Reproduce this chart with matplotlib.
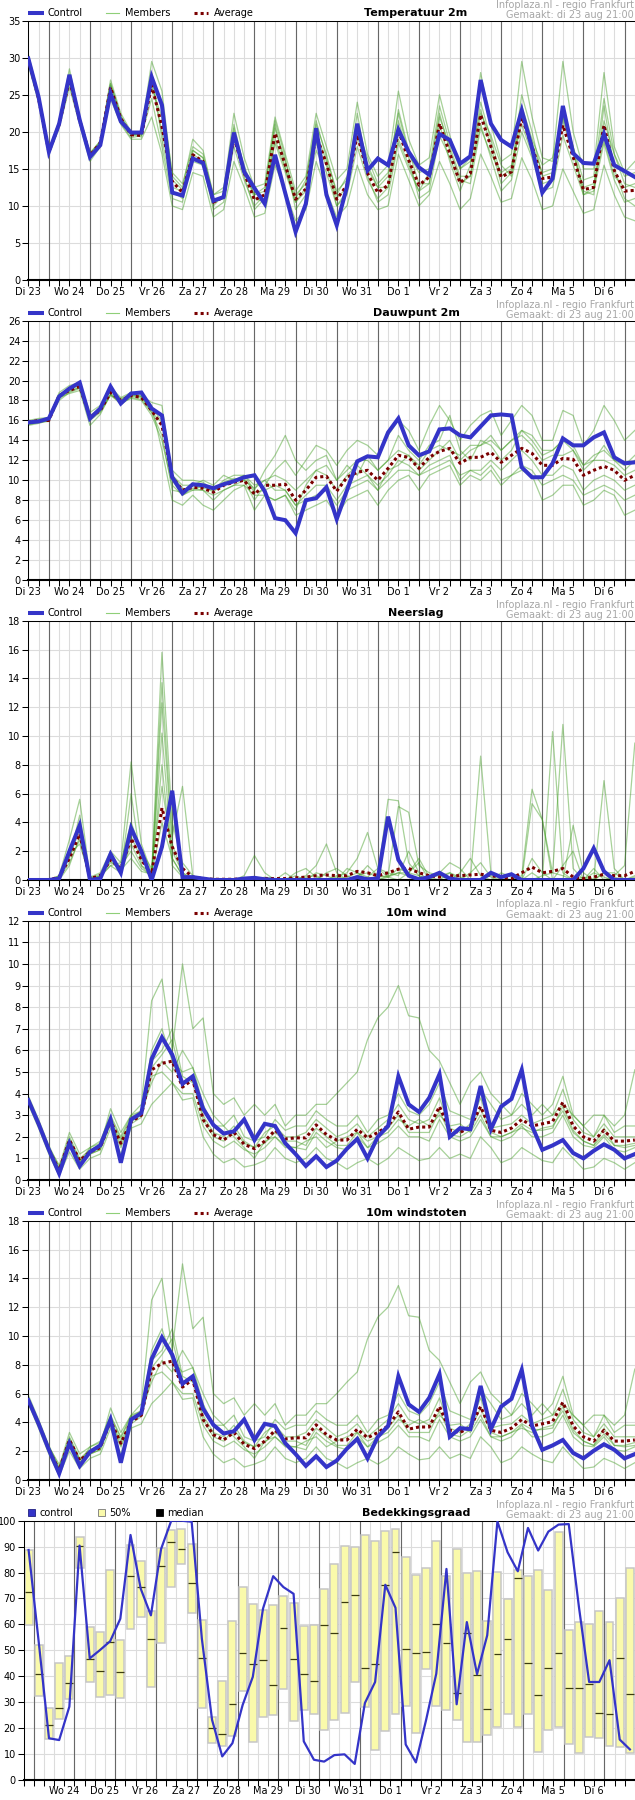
import numpy as np
import matplotlib
matplotlib.use('Agg')
import matplotlib.pyplot as plt
from matplotlib.lines import Line2D
from matplotlib.patches import Rectangle

plt.rcParams['font.family'] = ['DejaVu Sans']

# ---------------- data ----------------
day_labels = ["Di 23", "Wo 24", "Do 25", "Vr 26", "Za 27", "Zo 28", "Ma 29", "Di 30",
              "Wo 31", "Do 1", "Vr 2", "Za 3", "Zo 4", "Ma 5", "Di 6"]
cloud_labels = ["Wo 24", "Do 25", "Vr 26", "Za 27", "Zo 28", "Ma 29", "Di 30",
                "Wo 31", "Do 1", "Vr 2", "Za 3", "Zo 4", "Ma 5", "Di 6"]

temp_control = [29.9,24.7,17.3,21.1,27.7,21.6,16.6,18.2,25.2,21.4, 19.9,19.9,27.4,23.6,11.8,11.4,16.4,15.8,10.7,11.2,
                19.9,14.6,12.4,10.3,16.9,11.7,6.5,10.3,20.5,11.5, 7.4,12.6,21.1,14.8,16.4,15.5,20.3,17.3,15.2,14.2,
                19.7,18.9,15.7,16.7,27.0,21.1,18.9,18.0,22.9,17.8, 11.8,13.7,23.5,17.1,15.8,15.7,19.7,15.5,14.7,13.9]
temp_average = [29.8,24.5,17.3,21.0,27.0,21.5,16.8,18.5,26.0,21.8, 19.6,19.5,26.3,20.7,13.3,11.8,16.9,16.0,10.5,11.2,
                19.3,14.5,10.8,11.5,19.8,15.5,10.9,12.3,19.5,15.7, 10.9,12.8,19.6,14.4,11.8,12.8,20.2,16.2,12.8,13.9,
                21.1,17.1,13.1,14.4,22.3,18.0,13.9,14.6,22.0,18.0, 13.7,13.9,20.9,16.6,12.2,12.5,20.9,14.8,12.0,12.1]
temp_members = [
    [30.5,25.0,17.5,21.5,28.5,22.0,17.0,18.8,27.0,22.5, 20.0,20.0,29.5,25.5,14.0,12.5,19.0,17.5,11.5,12.0,
     22.5,16.5,12.5,13.0,22.0,17.0,12.0,14.0,22.5,18.0, 13.5,15.0,24.0,17.0,14.0,15.5,25.5,19.0,15.5,16.5,
     25.0,19.5,15.0,16.5,28.0,21.0,16.0,17.0,29.5,22.0, 16.5,16.0,29.5,20.0,15.0,15.0,28.0,18.0,14.5,16.0],
    [29.0,24.0,17.0,20.5,26.0,21.0,16.0,18.0,24.5,21.0, 19.0,19.0,22.0,17.0,10.0,9.5,14.5,14.0,8.5,9.5,
     16.0,12.5,8.5,9.0,15.5,12.0,8.0,9.5,16.0,12.0, 8.5,10.0,15.5,11.5,9.5,10.0,17.0,13.5,10.0,11.5,
     16.0,13.0,9.5,11.0,17.0,14.0,10.5,11.0,16.5,13.5, 9.5,10.0,15.0,12.0,9.0,9.5,15.5,11.5,8.5,8.0],
    [30.0,24.8,17.5,21.2,27.5,22.0,17.2,18.7,26.5,22.0, 19.5,19.8,28.0,19.0,12.0,11.0,17.5,16.5,10.0,11.5,
     21.0,15.0,11.0,10.5,20.5,16.0,11.5,13.0,21.5,16.5, 12.0,13.5,22.5,15.0,12.5,14.0,23.0,17.5,13.0,13.0,
     21.0,16.0,12.0,15.5,24.0,19.0,14.0,15.0,25.0,20.0, 14.0,14.5,23.0,18.0,12.0,11.5,23.5,15.0,11.0,10.0],
    [29.5,24.2,17.2,20.8,27.0,21.2,16.5,18.3,25.5,21.5, 19.7,19.3,26.0,22.0,12.5,12.0,16.0,15.5,9.5,10.5,
     18.0,13.5,10.0,11.5,18.5,14.5,10.5,12.0,18.5,15.5, 11.0,12.5,19.5,14.0,10.5,11.5,18.5,15.0,12.0,14.5,
     22.5,17.5,13.5,13.0,20.5,17.0,14.5,15.5,21.0,17.0, 13.0,13.5,21.5,17.0,12.5,13.0,19.0,14.0,12.5,13.0],
    [30.2,24.6,17.3,21.3,27.8,21.8,16.8,18.6,26.2,22.0, 19.8,19.6,27.0,24.0,14.5,13.0,18.0,17.0,11.5,12.5,
     20.0,15.5,11.5,12.0,21.5,16.5,9.5,11.5,17.5,14.5, 10.0,12.0,20.5,15.5,12.5,12.5,21.5,16.5,11.0,12.0,
     19.5,16.5,13.0,14.0,22.5,19.5,15.5,14.0,23.0,18.5, 14.5,15.0,22.0,18.0,13.5,14.0,24.5,17.0,13.0,12.5],
    [29.3,24.4,17.4,20.9,26.5,21.4,16.6,18.2,25.0,21.2, 19.2,19.5,24.5,18.0,11.0,10.5,17.0,16.0,10.5,11.0,
     20.5,14.0,9.5,11.0,19.0,15.0,10.5,12.5,20.0,16.0, 10.0,11.5,18.0,13.5,11.0,12.5,19.0,15.5,12.0,13.0,
     22.0,18.0,14.0,14.0,21.0,16.5,12.0,13.5,20.0,16.5, 12.0,12.5,19.5,15.5,11.5,12.0,18.5,13.5,10.5,11.0],
    [30.0,24.5,17.0,21.0,27.2,21.6,17.0,18.5,26.5,22.2, 19.6,19.7,26.8,20.0,13.5,12.2,17.5,16.5,11.0,11.0,
     19.0,14.5,11.5,12.5,21.0,15.0,11.0,13.5,21.0,17.0, 11.5,14.0,20.5,16.5,13.0,14.5,22.5,17.0,14.5,15.0,
     23.5,18.5,15.0,16.0,23.0,18.0,13.0,14.5,23.5,19.0, 15.5,16.5,22.0,17.5,11.5,12.5,21.5,17.0,14.0,14.5],
]

dew_control = [15.8,15.9,16.2,18.4,19.2,19.8,16.2,17.2,19.4,17.7, 18.7,18.8,17.2,16.5,10.3,8.7,9.6,9.5,9.2,9.6,
               9.9,10.3,10.5,8.9,6.2,6.0,4.7,8.0,8.2,9.3, 6.1,9.0,11.9,12.4,12.3,14.8,16.2,13.5,12.5,12.9,
               15.1,15.2,14.5,14.3,15.4,16.5,16.6,16.5,11.3,10.3, 10.3,11.7,14.2,13.5,13.5,14.3,14.8,12.3,11.7,11.8]
dew_average = [15.8,16.0,16.0,18.5,19.0,19.4,16.3,17.0,18.8,18.0, 18.5,18.3,17.0,15.5,10.3,9.0,9.3,9.2,8.8,9.5,
               9.8,10.0,8.6,9.5,9.5,9.6,8.0,9.0,10.3,10.4, 8.9,10.3,10.8,11.0,10.0,11.2,12.5,12.3,11.2,12.3,
               12.9,13.2,11.7,12.3,12.3,12.8,11.8,12.5,13.2,12.7, 11.5,11.5,12.2,12.1,10.5,11.0,11.4,11.0,10.0,10.5]
dew_members = [
    [15.5,15.7,16.0,18.0,18.8,19.2,16.0,16.8,18.5,17.8, 18.2,18.0,16.5,14.0,9.5,8.5,9.0,9.0,8.5,9.0,
     9.5,10.0,8.0,9.5,11.0,12.0,10.5,12.0,13.5,13.0, 11.5,13.0,14.0,13.5,12.5,14.5,16.0,15.0,13.0,15.5,
     17.5,16.0,14.0,15.5,16.5,17.0,14.5,16.0,17.5,16.5, 14.0,14.0,17.0,16.5,13.5,15.0,17.5,16.0,14.0,15.0],
    [16.0,16.2,16.3,18.8,19.5,19.8,16.8,17.5,19.3,18.3, 18.8,18.7,17.5,13.0,8.0,7.5,8.5,7.5,7.0,8.0,
     9.0,9.5,7.0,8.5,8.0,8.5,6.5,7.0,7.5,8.0, 6.5,8.0,8.5,9.0,7.5,9.0,10.0,10.5,9.0,10.5,
     11.0,11.5,9.5,10.5,10.0,11.0,9.5,10.5,11.0,10.5, 8.0,8.5,9.5,9.5,7.5,8.0,9.0,8.5,6.5,7.0],
    [15.6,15.8,15.9,18.3,18.7,19.0,15.5,16.6,18.6,17.6, 18.3,18.1,16.8,15.8,11.0,10.0,10.0,9.8,9.0,10.0,
     10.5,10.5,9.0,11.0,12.5,14.5,12.0,11.0,12.0,12.5, 10.0,11.5,10.5,12.5,11.0,12.0,14.5,13.0,12.0,13.5,
     14.0,16.5,13.0,12.0,14.0,13.5,12.0,13.0,15.0,14.0, 12.5,13.0,14.0,13.0,11.0,12.0,13.5,12.0,11.5,12.5],
    [15.9,16.1,16.1,18.6,19.1,19.5,16.5,17.2,19.0,18.2, 18.6,18.5,17.8,17.5,10.5,9.5,9.5,10.0,9.5,10.5,
     10.0,10.5,9.5,10.0,9.0,9.0,7.5,8.5,9.5,9.5, 8.0,9.5,10.0,10.5,9.5,10.5,12.0,11.5,10.5,11.5,
     12.0,12.5,10.0,11.0,11.0,12.0,11.0,12.0,13.0,12.0, 10.5,10.5,11.5,11.0,9.0,10.0,10.5,10.0,9.0,9.5],
    [15.7,15.9,16.0,18.4,19.0,19.3,16.2,16.9,18.7,18.0, 18.5,18.4,17.2,16.0,10.0,8.5,9.2,9.0,8.0,9.0,
     9.5,9.5,8.5,8.5,8.0,8.5,7.0,9.5,11.0,10.5, 9.0,10.5,11.5,10.5,9.0,11.0,11.5,12.5,11.5,13.0,
     13.5,13.0,12.5,13.5,13.5,14.0,13.0,14.0,14.5,13.5, 12.0,12.5,12.5,13.0,11.5,12.0,12.0,11.5,10.5,11.0],
    [15.8,16.0,16.1,18.5,19.2,19.6,16.4,17.1,19.1,18.1, 18.6,18.4,16.8,14.5,9.0,8.8,9.5,9.2,9.0,9.5,
     10.0,10.2,8.8,9.0,9.5,9.0,7.5,8.0,8.5,9.0, 7.5,9.0,9.5,10.0,9.0,10.0,11.0,11.0,10.5,11.0,
     11.5,12.0,10.5,11.0,10.5,11.5,10.0,10.5,11.5,11.0, 9.5,10.0,10.5,10.0,8.5,9.0,9.5,9.0,8.0,8.5],
    [15.6,15.8,16.0,18.2,18.9,19.3,16.1,17.0,18.6,17.9, 18.4,18.3,17.0,16.5,10.5,9.2,9.0,9.5,8.8,9.8,
     10.2,10.0,9.2,10.0,10.5,10.0,9.0,10.0,11.0,11.5, 10.0,11.0,12.0,12.0,11.0,12.0,13.0,12.5,11.0,12.0,
     13.0,14.0,12.0,13.0,13.5,14.5,13.0,14.0,15.0,14.5, 13.0,13.0,14.0,13.5,11.5,12.5,13.0,12.0,11.0,12.0],
]

rain_control = [0,0,0,0.1,2.0,3.8,0,0.1,1.8,0.5, 3.6,2.0,0,2.3,6.2,0.2,0.2,0.1,0,0,
                0,0.1,0.15,0.05,0,0,0,0,0,0, 0,0,0.2,0.05,0.1,4.4,1.4,0.3,0.05,0.2,
                0.5,0.1,0,0,0,0.5,0.2,0.4,0,0, 0,0,0,0,0.8,2.2,0.6,0,0,0]
rain_average = [0,0,0,0.2,1.5,3.2,0.1,0.3,1.4,0.8, 2.9,1.4,0.4,5.0,2.3,0.8,0.2,0.1,0.05,0.05,
                0.05,0.1,0.1,0.1,0.1,0.1,0.15,0.2,0.3,0.35, 0.3,0.3,0.6,0.5,0.3,0.5,0.75,0.8,0.5,0.3,
                0.2,0.3,0.3,0.35,0.4,0.3,0.2,0.1,0.5,0.9, 0.5,0.6,0.8,0.2,0.1,0.2,0.4,0.3,0.3,0.6]
rain_members = [
    [0,0,0,0.3,2.8,5.6,0.2,0.5,2.0,1.2, 8.2,2.5,0.5,15.8,4.0,1.2,0.3,0,0,0,
     0,0,0,0,0,0,0,0.3,1.0,2.5, 0.5,0,0.3,0.5,0.2,0.3,5.1,4.7,1.0,0.5,
     0.3,0,0,0.5,1.2,0.2,0,0,0.3,6.3, 4.2,0.5,10.8,0.8,0,0,0.5,0.5,0,0.2],
    [0,0,0,0.2,1.5,4.5,0.1,0.2,1.5,0.8, 3.0,1.5,0.3,13.7,3.0,6.5,0.3,0,0,0.1,
     0,0,0,0.2,0.1,0,0,0,0,0, 0.2,0.5,1.5,3.3,0.8,0.2,0,0.5,1.2,0,
     0,0.5,0,0,8.6,0.5,0,0,0,0, 0,10.3,0.5,0,0.2,0,0,0,0,0],
    [0,0,0,0,1.0,3.0,0,0.3,1.0,0.5, 6.0,1.0,0.2,12.3,2.5,0.5,0,0,0,0,
     0,0.3,1.7,0.5,0,0,0.5,0.8,0.2,0, 0,0.8,0.5,0,0.3,5.6,5.5,1.2,0.3,0,
     0.5,1.2,0.8,0,0,0.3,0.2,0,0,5.3, 4.2,0,0,3.8,0.5,0,6.9,0.8,0,0],
    [0,0,0,0.2,2.0,4.0,0,0.2,1.8,0.5, 2.5,1.0,0.5,10.2,1.5,0.3,0,0,0,0,
     0.1,0,0,0,0,0.5,0,0,0,0.5, 0.8,0.3,0,0.2,0.8,0.5,0.3,2.0,0.5,0,
     0,0,0.5,1.5,0.3,0,0,0,0,1.5, 0.5,0,1.0,2.0,0,0,0,0.3,1.0,9.5],
    [0,0,0,0.1,1.2,2.8,0,0.3,1.2,1.0, 2.0,0.8,0.3,8.0,1.0,0.2,0.2,0,0,0,
     0,0,0,0,0,0,0.3,0,0.5,0.3, 0,0,0.2,1.0,0.3,0.2,0.5,0.3,0,0.2,
     0.3,0.5,0.2,0,0,0,0.5,0.2,0,0, 0.3,0.5,0.3,0,0,0.5,0.2,0,0,0.3],
    [0,0,0,0.2,1.6,3.5,0.1,0.4,1.3,0.7, 1.5,0.6,0.4,4.0,1.5,0.3,0,0,0,0,
     0,0,0,0,0,0,0,0.2,0.3,0, 0,0.2,0.5,0.2,0,0.3,0.5,0.5,1.5,0.2,
     0,0,0,0,0,0,0,0,0,0.5, 0,0,0,0,0,0,0.5,0.2,0,0],
    [0,0,0,0.3,1.8,2.5,0.2,0.2,1.0,1.2, 4.0,2.0,0.8,6.5,2.0,0.5,0.1,0,0,0,
     0,0,0,0,0,0,0,0,0,0, 0.3,0,0,0,0,0.2,0.8,0.5,0.3,0,
     0,0,0,0,0,0,0,0,0,0, 0,0,0,0,0,0.8,0,0,0,0],
]

wind_control = [3.7,2.6,1.4,0.3,1.7,0.65,1.3,1.6,2.8,0.8, 2.8,3.1,5.6,6.6,5.8,4.45,4.8,3.3,2.55,2.15,
                2.25,2.8,1.85,2.6,2.5,1.7,1.2,0.65,1.1,0.6, 0.9,1.45,1.9,1.0,2.0,2.5,4.8,3.5,3.15,3.8,
                4.9,2.0,2.4,2.35,4.35,2.35,3.4,3.75,5.1,2.5, 1.4,1.6,1.85,1.25,1.0,1.35,1.65,1.4,1.0,1.2]
wind_average = [3.7,2.6,1.4,0.45,1.85,0.9,1.3,1.5,2.75,1.7, 2.7,3.0,5.1,5.4,5.5,4.3,4.65,2.8,2.1,1.85,
                2.2,1.65,1.45,1.8,2.3,1.9,1.95,1.95,2.55,2.1, 1.85,1.85,2.35,1.95,2.2,2.5,3.15,2.35,2.45,2.45,
                3.4,2.3,2.2,2.45,3.4,2.3,2.2,2.4,2.8,2.5, 2.6,2.7,3.6,2.5,2.0,1.8,2.3,1.8,1.8,1.85]
wind_members = [
    [3.9,2.8,1.6,0.6,2.2,1.2,1.5,1.8,3.0,2.0, 3.0,3.5,8.3,9.3,6.0,10.0,7.0,7.5,4.0,3.5,
     3.8,3.0,3.5,3.0,3.5,2.5,3.0,3.0,3.5,3.5, 4.0,4.5,5.0,6.5,7.5,8.0,9.0,7.6,7.5,6.0,
     5.5,4.5,3.5,4.5,5.0,4.0,3.5,3.0,3.5,3.0, 3.5,3.0,3.5,3.0,2.5,3.0,3.0,2.5,3.0,5.1],
    [3.5,2.4,1.2,0.2,1.3,0.5,1.0,1.2,2.4,1.2, 2.4,2.6,3.5,4.0,4.5,3.7,3.8,2.0,1.2,0.8,
     1.0,0.6,0.7,0.9,1.5,1.0,0.8,1.0,1.5,1.0, 0.8,0.5,0.8,1.0,0.7,1.0,1.5,1.2,0.9,1.0,
     1.5,1.0,1.2,1.0,2.0,1.5,0.8,1.0,1.5,1.2, 0.9,0.8,1.5,1.0,0.5,0.6,1.0,0.8,0.5,0.8],
    [3.8,2.7,1.5,0.5,2.0,1.0,1.4,1.6,3.3,2.2, 3.0,3.2,6.0,7.0,5.5,5.0,5.2,3.5,2.5,2.5,
     3.0,2.0,1.8,2.0,2.8,2.3,2.5,2.5,3.2,2.8, 2.5,2.5,3.0,2.2,2.8,3.0,4.0,3.2,3.0,3.5,
     4.5,3.2,3.0,2.8,4.2,3.5,2.8,3.0,4.0,3.5, 3.0,3.5,4.8,3.0,2.5,2.0,3.0,2.2,2.5,2.5],
    [3.6,2.5,1.3,0.4,1.7,0.8,1.2,1.4,2.6,1.5, 2.6,2.9,4.8,5.0,4.5,4.0,4.0,2.5,1.8,1.5,
     1.8,1.4,1.2,1.5,2.0,1.6,1.5,1.4,2.2,1.8, 1.5,1.4,2.0,1.5,1.7,2.0,2.5,2.0,2.0,1.8,
     2.8,2.0,1.8,2.0,2.8,2.0,1.8,2.0,2.5,2.0, 2.0,2.2,3.0,2.0,1.6,1.5,2.0,1.4,1.3,1.5],
    [3.7,2.6,1.4,0.5,1.9,0.9,1.3,1.5,2.7,1.8, 2.7,3.0,5.5,6.0,7.0,4.8,4.5,3.0,2.2,2.0,
     2.5,1.8,1.5,2.2,2.5,2.0,2.0,2.2,2.8,2.4, 2.0,2.2,2.6,2.0,2.4,2.8,3.5,2.8,2.6,2.8,
     3.8,2.4,2.2,2.6,3.8,2.4,2.5,2.6,3.0,2.6, 2.8,3.0,4.2,2.8,2.2,2.0,2.6,2.0,2.0,2.0],
    [3.8,2.6,1.5,0.7,1.6,0.8,1.5,1.7,2.9,1.9, 2.9,3.2,4.5,5.5,5.0,6.0,5.2,4.0,3.0,2.5,
     2.0,1.5,1.0,1.8,2.0,1.5,1.5,1.8,2.0,1.5, 1.8,2.0,2.2,1.5,2.0,2.2,2.8,2.5,2.8,2.5,
     3.0,2.5,2.6,2.2,3.0,2.0,2.0,2.2,2.4,2.2, 2.4,2.5,3.2,2.2,1.8,1.6,2.4,1.6,1.5,1.6],
    [3.6,2.5,1.4,0.4,1.8,0.9,1.2,1.4,2.8,1.6, 2.8,3.0,5.2,5.8,6.5,4.5,4.8,2.8,2.0,1.8,
     2.3,1.7,1.5,1.7,2.2,1.8,1.8,1.6,2.4,2.0, 1.6,1.6,2.2,1.8,2.0,2.4,3.0,2.2,2.2,2.2,
     3.2,2.1,2.0,2.3,3.3,2.2,2.0,2.2,2.6,2.3, 2.3,2.4,3.4,2.3,1.8,1.6,2.1,1.6,1.6,1.7],
]

gust_control = [5.55,3.9,2.1,0.45,2.55,0.98,1.95,2.4,4.2,1.2, 4.2,4.65,8.4,9.9,8.7,6.68,7.2,4.95,3.83,3.23,
                3.38,4.2,2.78,3.9,3.75,2.55,1.8,0.98,1.65,0.9, 1.35,2.18,2.85,1.5,3.0,3.75,7.2,5.25,4.73,5.7,
                7.35,3.0,3.6,3.53,6.53,3.53,5.1,5.63,7.65,3.75, 2.1,2.4,2.78,1.88,1.5,2.03,2.48,2.1,1.5,1.8]
gust_average = [5.55,3.9,2.1,0.68,2.78,1.35,1.95,2.25,4.13,2.55, 4.05,4.5,7.65,8.1,8.25,6.45,6.98,4.2,3.15,2.78,
                3.3,2.48,2.18,2.7,3.45,2.85,2.93,2.93,3.83,3.15, 2.78,2.78,3.53,2.93,3.3,3.75,4.73,3.53,3.68,3.68,
                5.1,3.45,3.3,3.68,5.1,3.45,3.3,3.6,4.2,3.75, 3.9,4.05,5.4,3.75,3.0,2.7,3.45,2.7,2.7,2.78]
gust_members = [
    [5.9,4.2,2.4,0.9,3.3,1.8,2.3,2.7,4.5,3.0, 4.5,5.3,12.5,14.0,9.0,15.0,10.5,11.3,6.0,5.3,
     5.7,4.5,5.3,4.5,5.3,3.8,4.5,4.5,5.3,5.3, 6.0,6.8,7.5,9.8,11.3,12.0,13.5,11.4,11.3,9.0,
     8.3,6.8,5.3,6.8,7.5,6.0,5.3,4.5,5.3,4.5, 5.3,4.5,5.3,4.5,3.8,4.5,4.5,3.8,4.5,7.7],
    [5.3,3.6,1.8,0.3,2.0,0.8,1.5,1.8,3.6,1.8, 3.6,3.9,5.3,6.0,6.8,5.6,5.7,3.0,1.8,1.2,
     1.5,0.9,1.1,1.4,2.3,1.5,1.2,1.5,2.3,1.5, 1.2,0.8,1.2,1.5,1.1,1.5,2.3,1.8,1.4,1.5,
     2.3,1.5,1.8,1.5,3.0,2.3,1.2,1.5,2.3,1.8, 1.4,1.2,2.3,1.5,0.8,0.9,1.5,1.2,0.8,1.2],
    [5.7,4.1,2.3,0.8,3.0,1.5,2.1,2.4,5.0,3.3, 4.5,4.8,9.0,10.5,8.3,7.5,7.8,5.3,3.8,3.8,
     4.5,3.0,2.7,3.0,4.2,3.5,3.8,3.8,4.8,4.2, 3.8,3.8,4.5,3.3,4.2,4.5,6.0,4.8,4.5,5.3,
     6.8,4.8,4.5,4.2,6.3,5.3,4.2,4.5,6.0,5.3, 4.5,5.3,7.2,4.5,3.8,3.0,4.5,3.3,3.8,3.8],
    [5.4,3.8,2.0,0.6,2.6,1.2,1.8,2.1,3.9,2.3, 3.9,4.4,7.2,7.5,6.8,6.0,6.0,3.8,2.7,2.3,
     2.7,2.1,1.8,2.3,3.0,2.4,2.3,2.1,3.3,2.7, 2.3,2.1,3.0,2.3,2.6,3.0,3.8,3.0,3.0,2.7,
     4.2,3.0,2.7,3.0,4.2,3.0,2.7,3.0,3.8,3.0, 3.0,3.3,4.5,3.0,2.4,2.3,3.0,2.1,2.0,2.3],
    [5.6,3.9,2.1,0.8,2.9,1.4,2.0,2.3,4.1,2.7, 4.1,4.5,8.3,9.0,10.5,7.2,6.8,4.5,3.3,3.0,
     3.8,2.7,2.3,3.3,3.8,3.0,3.0,3.3,4.2,3.6, 3.0,3.3,3.9,3.0,3.6,4.2,5.3,4.2,3.9,4.2,
     5.7,3.6,3.3,3.9,5.7,3.6,3.8,3.9,4.5,3.9, 4.2,4.5,6.3,4.2,3.3,3.0,3.9,3.0,3.0,3.0],
    [5.7,3.9,2.3,1.1,2.4,1.2,2.3,2.6,4.4,2.9, 4.4,4.8,6.8,8.3,7.5,9.0,7.8,6.0,4.5,3.8,
     3.0,2.3,1.5,2.7,3.0,2.3,2.3,2.7,3.0,2.3, 2.7,3.0,3.3,2.3,3.0,3.3,4.2,3.8,4.2,3.8,
     4.5,3.8,3.9,3.3,4.5,3.0,3.0,3.3,3.6,3.3, 3.6,3.8,4.8,3.3,2.7,2.4,3.6,2.4,2.3,2.4],
    [5.4,3.8,2.1,0.6,2.7,1.4,1.8,2.1,4.2,2.4, 4.2,4.5,7.8,8.7,9.8,6.8,7.2,4.2,3.0,2.7,
     3.5,2.6,2.3,2.6,3.3,2.7,2.7,2.4,3.6,3.0, 2.4,2.4,3.3,2.7,3.0,3.6,4.5,3.3,3.3,3.3,
     4.8,3.2,3.0,3.5,5.0,3.3,3.0,3.3,3.9,3.5, 3.5,3.6,5.1,3.5,2.7,2.4,3.2,2.4,2.4,2.6],
]

cloud_p75 = [88.7,52.2,27.8,45.3,47.9,93.6,59.0,57.1,81.0,54.0, 90.7,84.5,65.0,89.5,96.4,96.8,91.0,61.8,24.2,38.0,
             61.3,74.5,68.0,65.7,67.6,70.9,68.4,59.2,59.7,73.7, 83.3,90.1,89.7,94.5,92.1,96.0,96.7,85.9,79.0,81.7,
             92.2,78.8,89.0,79.9,80.6,61.3,80.3,69.9,80.8,78.7, 81.0,73.3,95.5,57.9,60.9,60.0,65.3,61.0,70.3,81.8]
cloud_p25 = [59.7,32.3,16.0,23.6,31.2,81.8,37.8,32.0,32.6,31.6, 58.4,63.0,35.7,52.8,74.6,83.4,64.5,27.7,14.2,13.1,
             16.9,34.2,14.5,24.2,25.0,35.0,22.7,26.9,25.4,19.2, 23.1,26.0,37.9,28.2,11.5,18.8,25.6,28.7,18.3,42.9,
             28.7,26.9,23.3,14.7,14.5,17.2,20.5,25.6,20.3,25.3, 10.9,19.2,20.5,13.8,10.3,16.5,16.2,13.2,12.7,10.3]
cloud_median = [72.6,40.7,21.1,27.8,37.3,90.4,46.5,42.0,53.4,41.5, 78.7,74.6,54.5,82.6,91.8,89.1,76.1,46.9,20.0,17.9,
                29.2,48.8,44.9,46.1,36.5,58.8,46.5,40.7,38.0,59.9, 56.8,68.7,71.4,43.3,44.9,75.1,88.1,50.5,49.1,49.5,
                60.3,52.9,33.7,56.8,40.6,27.2,48.5,54.5,77.9,45.3, 32.9,43.3,49.1,35.3,35.3,37.2,26.0,25.6,47.2,33.3]
cloud_control = [88.7,53.0,16.1,15.4,28.3,90.4,46.9,50.1,53.5,62.2, 94.5,73.8,63.5,89.1,100,100,99.6,54.5,23.2,9.1,
                 14.2,28.9,39.8,66.1,78.6,74.4,71.8,14.9,7.8,7.1, 9.6,9.9,6.2,29.7,37.8,75.3,66.4,13.7,6.8,23.1,
                 41.0,81.4,29.2,60.9,40.8,55.8,99.7,87.8,80.5,97.2, 88.5,95.8,98.5,98.7,66.7,37.8,37.8,46.2,15.6,11.8]

# ---------------- style ----------------
W, H = 635, 1800
BLUE = '#3434c8'
AVG = '#7a0000'
MEMBER = '#3c9a1c'
MEMBER_LEG = '#8fcf78'
GRID = '#dcdcdc'
DARK = '#676767'
INFO = '#a6a6a6'
NARROW = ['Liberation Sans Narrow', 'DejaVu Sans']

fig = plt.figure(figsize=(W / 100, H / 100), dpi=100)
fig.patch.set_facecolor('white')


def fx(x):
    return x / W


def fy(y):
    return 1 - y / H


def header(off, title):
    fig.text(fx(416), fy(off + 13), title, ha='center', va='center',
             fontsize=8, fontweight='bold')
    fig.text(fx(634), fy(off + 4.5), 'Infoplaza.nl - regio Frankfurt', ha='right', va='center',
             fontsize=7, color=INFO, family=NARROW)
    fig.text(fx(634), fy(off + 14.5), 'Gemaakt: di 23 aug 21:00', ha='right', va='center',
             fontsize=7, color=INFO, family=NARROW)


def line_legend(off):
    y = fy(off + 13.3)
    fig.add_artist(Line2D([fx(28), fx(44)], [y, y], color=BLUE, lw=2.9, solid_capstyle='butt'))
    fig.text(fx(48), y, 'Control', ha='left', va='center', fontsize=7)
    fig.add_artist(Line2D([fx(106), fx(119)], [y, y], color=MEMBER_LEG, lw=0.8))
    fig.text(fx(125), y, 'Members', ha='left', va='center', fontsize=7)
    fig.add_artist(Line2D([fx(194), fx(208)], [y, y], color=AVG, lw=2.2,
                          linestyle=(0, (1, 1)), dash_capstyle='butt'))
    fig.text(fx(214), y, 'Average', ha='left', va='center', fontsize=7)


def style_axes(ax):
    for s in ['left', 'top']:
        ax.spines[s].set_linewidth(0.75)
        ax.spines[s].set_color('black')
    ax.spines['bottom'].set_linewidth(1.5)
    ax.spines['bottom'].set_color('black')
    ax.spines['right'].set_visible(False)
    ax.set_axisbelow(True)
    ax.tick_params(axis='x', which='both', direction='out', length=4, width=0.75,
                   labelsize=7, pad=1)
    ax.tick_params(axis='y', direction='out', length=4, width=0.75, labelsize=7, pad=1.5)


def line_panel(k, title, ymax, ystep, control, average, members):
    off = 300 * k
    top, bottom = 20.7 + off, 280 + off
    ax = fig.add_axes([fx(28.3), fy(bottom), fx(W - 28.3), (bottom - top) / H])
    t = np.arange(len(control))
    ax.set_xlim(0, (W - 28.3) / 10.28)
    ax.set_ylim(0, ymax)
    ax.set_yticks(np.arange(0, ymax + 0.01, ystep))
    ax.set_yticklabels([f'{v:g}' for v in np.arange(0, ymax + 0.01, ystep)])
    ax.set_xticks(np.arange(0, 57, 4))
    ax.set_xticklabels(day_labels)
    ax.set_xticks(np.arange(0, len(control)), minor=True)
    ax.grid(True, which='both', axis='x', color=GRID, lw=0.8)
    ax.grid(True, which='major', axis='y', color=GRID, lw=0.8)
    for d in np.arange(2, len(control), 4):
        ax.axvline(d, color=DARK, lw=0.8, zorder=1)
    for m in members:
        ax.plot(t, m, color=MEMBER, lw=0.9, alpha=0.45, zorder=2)
    ax.plot(t, average, color=AVG, lw=2.2, linestyle=(0, (1, 1)),
            dash_capstyle='butt', zorder=3)
    ax.plot(t, control, color=BLUE, lw=2.9, zorder=4, solid_joinstyle='miter')
    style_axes(ax)
    header(off, title)
    line_legend(off)
    return ax


line_panel(0, 'Temperatuur 2m', 35, 5, temp_control, temp_average, temp_members)
line_panel(1, 'Dauwpunt 2m', 26, 2, dew_control, dew_average, dew_members)
line_panel(2, 'Neerslag', 18, 2, rain_control, rain_average, rain_members)
line_panel(3, '10m wind', 12, 1, wind_control, wind_average, wind_members)
line_panel(4, '10m windstoten', 18, 2, gust_control, gust_average, gust_members)

# ---------------- cloud cover panel ----------------
off = 1500
top, bottom = 20.7 + off, 280 + off
ax = fig.add_axes([fx(23.5), fy(bottom), fx(W - 23.5), (bottom - top) / H])
i = np.arange(len(cloud_control))
p75 = np.array(cloud_p75)
p25 = np.array(cloud_p25)
ax.set_xlim(-0.47, 59.3)
ax.set_ylim(0, 100)
ax.set_yticks(np.arange(0, 101, 10))
ax.set_xticks(np.arange(3.45, 58, 4))
ax.set_xticklabels(cloud_labels)
ax.set_xticks(np.arange(-0.5, 59.6, 1), minor=True)
ax.grid(True, which='minor', axis='x', color=GRID, lw=0.8)
ax.grid(True, which='major', axis='y', color=GRID, lw=0.8)
for d in np.arange(0.5, 59, 4):
    ax.axvline(d, color=DARK, lw=0.8, zorder=1)
ax.bar(i, p75 - p25, bottom=p25, width=0.78, color='#fafaab', edgecolor='#c6c6c6',
       linewidth=1.1, zorder=2)
ax.hlines(cloud_median, i - 0.38, i + 0.38, colors='#3b3b10', lw=0.9, zorder=3)
ax.plot(i, cloud_control, color=BLUE, lw=1.6, zorder=4)
style_axes(ax)
ax.tick_params(axis='x', which='major', length=0, pad=4)
ax.tick_params(axis='x', which='minor', length=4)

fig.text(fx(416), fy(off + 13), 'Bedekkingsgraad', ha='center', va='center',
         fontsize=8, fontweight='bold')
fig.text(fx(634), fy(off + 4.5), 'Infoplaza.nl - regio Frankfurt', ha='right', va='center',
         fontsize=7, color=INFO, family=NARROW)
fig.text(fx(634), fy(off + 14.5), 'Gemaakt: di 23 aug 21:00', ha='right', va='center',
         fontsize=7, color=INFO, family=NARROW)

leg_y = off + 12.5
for x0, fc, ec, label in [(28, BLUE, '#202080', 'control'), (98, '#fafaab', '#777777', '50%'),
                          (156, '#000000', '#000000', 'median')]:
    fig.add_artist(Rectangle((fx(x0), fy(leg_y + 3.5)), 7 / W, 7 / H, transform=fig.transFigure,
                             facecolor=fc, edgecolor=ec, lw=0.6))
    fig.text(fx(x0 + 11), fy(leg_y), label, ha='left', va='center', fontsize=7)

fig.savefig('out.png', dpi=100, facecolor='white')
